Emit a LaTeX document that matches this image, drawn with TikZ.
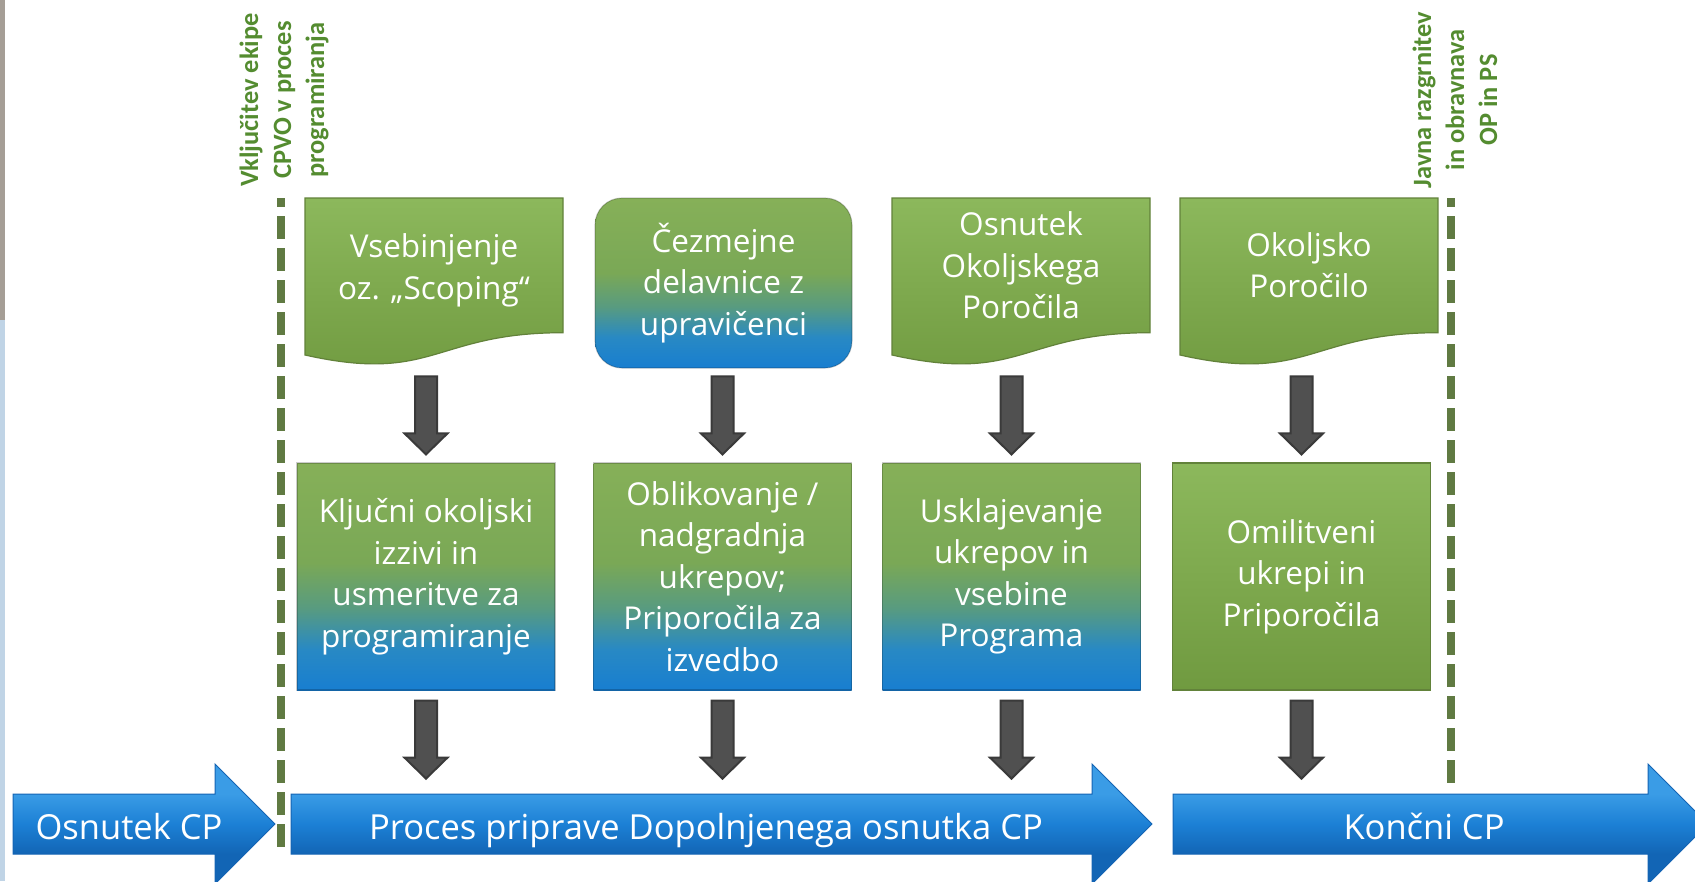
\documentclass[tikz,border=0pt]{standalone}
\usepackage{fontspec}
\setmainfont{Open Sans}
\newfontfamily\lblfont{Carlito}
\usetikzlibrary{calc}

\definecolor{dashg}{RGB}{96,122,66}
\definecolor{lblg}{RGB}{84,140,48}
\definecolor{agrey}{RGB}{80,80,80}
\definecolor{aedge}{RGB}{58,58,58}
\definecolor{edgeg}{RGB}{98,130,58}
\definecolor{bedge}{RGB}{20,100,180}
\definecolor{blueA}{RGB}{24,126,208}
\definecolor{blueB}{RGB}{40,137,196}
\definecolor{tealA}{RGB}{88,155,128}
\definecolor{greenB}{RGB}{122,168,86}
\definecolor{greenA}{RGB}{134,176,88}
\definecolor{ggBot}{RGB}{112,154,64}
\definecolor{ggTop}{RGB}{140,184,92}
\definecolor{blTop}{RGB}{58,156,230}
\definecolor{blMid}{RGB}{28,128,213}
\definecolor{blBot}{RGB}{18,101,181}
\definecolor{stripgrey}{RGB}{165,158,150}
\definecolor{stripblue}{RGB}{192,212,230}

\pgfdeclareverticalshading{gbshade}{100bp}{color(0bp)=(blueA); color(25bp)=(blueA); color(34bp)=(blueB); color(43bp)=(tealA); color(53bp)=(greenB); color(75bp)=(greenA); color(100bp)=(greenA)}
\pgfdeclareverticalshading{gshade}{100bp}{color(0bp)=(ggBot); color(25bp)=(ggBot); color(75bp)=(ggTop); color(100bp)=(ggTop)}
\pgfdeclareverticalshading{blueshade}{100bp}{color(0bp)=(blBot); color(37.5bp)=(blBot); color(50bp)=(blMid); color(62.5bp)=(blTop); color(100bp)=(blTop)}

\tikzset{
 dashline/.style={draw=dashg, line width=8pt, dash pattern=on 23pt off 9pt, dash phase=14pt},
 lbl/.style={rotate=90, align=center, text=lblg, inner sep=0pt, font=\lblfont\bfseries\fontsize{26.4}{33}\selectfont},
 boxtext/.style={align=center, text=white, inner sep=0pt, font=\fontsize{31.5}{41.5}\selectfont},
 gbbox/.style={boxtext, shade, shading=gbshade, draw=black, draw opacity=0.2, line width=1.2pt, minimum width=258pt, minimum height=227pt},
 ggbox/.style={boxtext, shade, shading=gshade, draw=edgeg, line width=1.2pt, minimum width=258pt, minimum height=227pt},
 docstyle/.style={shade, shading=gshade, draw=edgeg, line width=1.2pt},
 fatarrow/.style={fill=agrey, draw=aedge, line width=2pt, line join=miter},
 bluearr/.style={shade, shading=blueshade, draw=bedge, line width=1pt},
 arrtext/.style={text=white, inner sep=0pt, anchor=base, font=\fontsize{34.5}{40}\selectfont},
}

\newcommand\docshape[2]{%
 \pgfmathsetmacro\dsXa{#1}\pgfmathsetmacro\dsXb{#1+258}\pgfmathsetmacro\dsXm{#1+129}%
 \pgfmathsetmacro\dsYa{#2}\pgfmathsetmacro\dsYr{#2+134.7}\pgfmathsetmacro\dsYc{#2+186}\pgfmathsetmacro\dsYl{#2+157}%
 \path[docstyle] (\dsXa,\dsYa) -- (\dsXb,\dsYa) -- (\dsXb,\dsYr) .. controls (\dsXm,\dsYr) and (\dsXm,\dsYc) .. (\dsXa,\dsYl) -- cycle;}
\newcommand\fatdown[2]{%
 \path[fatarrow] ($(#1)+(-11,#2)$) -- ++(22,0) -- ++(0,57) -- ++(10.5,0) -- ++(-21.5,21) -- ++(-21.5,-21) -- ++(10.5,0) -- cycle;}
\newcommand\bluearrow[3]{%
 \path[bluearr] (#1,794) -- (#2,794) -- (#2,764) -- (#3,824) -- (#2,884) -- (#2,854) -- (#1,854) -- cycle;}

\begin{document}
\begin{tikzpicture}[x=1pt,y=-1pt]
\useasboundingbox (0,0) rectangle (1695,881);
\fill[white] (0,0) rectangle (1695,881);
\fill[stripgrey] (0,0) rectangle (5,320);
\fill[stripblue] (0,320) rectangle (5,881);

% dashed milestones
\draw[dashline] (281,198) -- (281,847);
\draw[dashline] (1451,198) -- (1451,785);
\node[lbl] (l1) at (284,100) {Vključitev ekipe\\CPVO v proces\\programiranja};
\node[lbl] (l2) at (1455,100) {Javna razgrnitev\\in obravnava\\OP in PS};

% top row
\docshape{305}{198}
\node[boxtext] (t1) at (434,270.5) {Vsebinjenje\\oz. „Scoping“};
\node[gbbox, minimum width=257pt, minimum height=170pt, rounded corners=27pt] (t2) at (723.5,283) {Čezmejne\\delavnice z\\upravičenci};
\docshape{892}{198}
\node[boxtext] (t3) at (1021,265.5) {Osnutek\\Okoljskega\\Poročila};
\docshape{1180}{198}
\node[boxtext] (t4) at (1309,265) {Okoljsko\\Poročilo};

% middle row
\node[gbbox] (m1) at (426,576.5) {Ključni okoljski\\izzivi in\\usmeritve za\\programiranje};
\node[gbbox] (m2) at (722.5,576.5) {Oblikovanje /\\nadgradnja\\ukrepov;\\Priporočila za\\izvedbo};
\node[gbbox] (m3) at (1011.5,576.5) {Usklajevanje\\ukrepov in\\vsebine\\Programa};
\node[ggbox] (m4) at (1301.5,576.5) {Omilitveni\\ukrepi in\\Priporočila};

% down arrows
\fatdown{m1.north}{-86}
\fatdown{m2.north}{-86}
\fatdown{m3.north}{-86}
\fatdown{m4.north}{-86}
\fatdown{m1.south}{10}
\fatdown{m2.south}{10}
\fatdown{m3.south}{10}
\fatdown{m4.south}{10}

% bottom blue arrows
\bluearrow{13}{215}{275}
\bluearrow{291}{1092}{1152}
\bluearrow{1173}{1648}{1708}
\node[arrtext] (b1) at (129,839) {Osnutek CP};
\node[arrtext] (b2) at (706,839) {Proces priprave Dopolnjenega osnutka CP};
\node[arrtext] (b3) at (1424,839) {Končni CP};
\end{tikzpicture}
\end{document}
